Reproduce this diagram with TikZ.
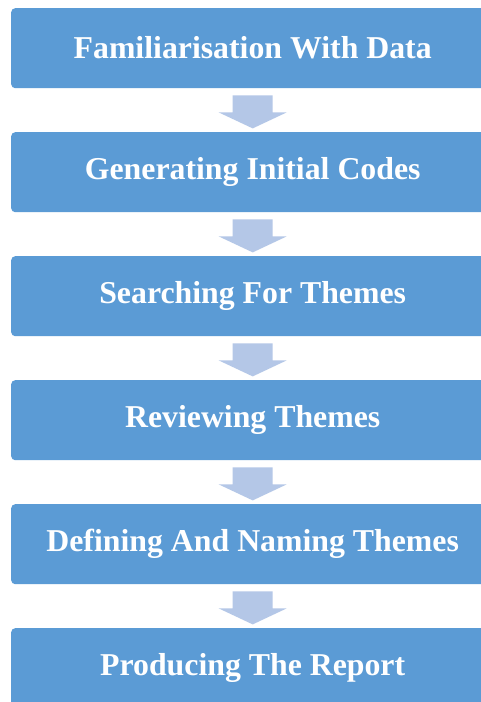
\documentclass[tikz,border=0pt]{standalone}
\usepackage{fontspec}
\setmainfont{Liberation Serif}
\usetikzlibrary{calc}
\definecolor{stageblue}{HTML}{5B9BD5}
\definecolor{arrowblue}{HTML}{B4C7E7}
\tikzset{
  stagebox/.style={fill=stageblue, draw=none, rounded corners=4pt,
    minimum width=483pt, minimum height=80pt, inner sep=0pt,
    text=white, font=\bfseries\fontsize{31.8}{36}\selectfont, anchor=north west},
  flowarrow/.style={fill=arrowblue, draw=none}
}
% block arrow pointing from the bottom of stage #1 towards the top of stage #2
\newcommand{\downarrowshape}[2]{%
  \path (#1.south) ++(0,-40pt) coordinate (tip-#1);
  \fill[flowarrow]
    ($(#1.south)+(-20pt,-7pt)$) -- ($(#1.south)+(20pt,-7pt)$) --
    ($(#1.south)+(20pt,-24pt)$) -- ($(#1.south)+(34pt,-24pt)$) --
    (tip-#1) --
    ($(#1.south)+(-34pt,-24pt)$) -- ($(#1.south)+(-20pt,-24pt)$) -- cycle;}
\begin{document}
\begin{tikzpicture}[x=1pt,y=1pt]
  \useasboundingbox (0,0) rectangle (481,702);
  \clip (0,0) rectangle (481,702);
  \fill[white] (0,0) rectangle (481,702);
  \node[stagebox] (s1) at (11,694) {Familiarisation With Data};
  \node[stagebox] (s2) at (11,570) {Generating Initial Codes};
  \node[stagebox] (s3) at (11,446) {Searching For Themes};
  \node[stagebox] (s4) at (11,322) {Reviewing Themes};
  \node[stagebox] (s5) at (11,198) {Defining And Naming Themes};
  \node[stagebox] (s6) at (11,74) {Producing The Report};
  \downarrowshape{s1}{s2}
  \downarrowshape{s2}{s3}
  \downarrowshape{s3}{s4}
  \downarrowshape{s4}{s5}
  \downarrowshape{s5}{s6}
\end{tikzpicture}
\end{document}
